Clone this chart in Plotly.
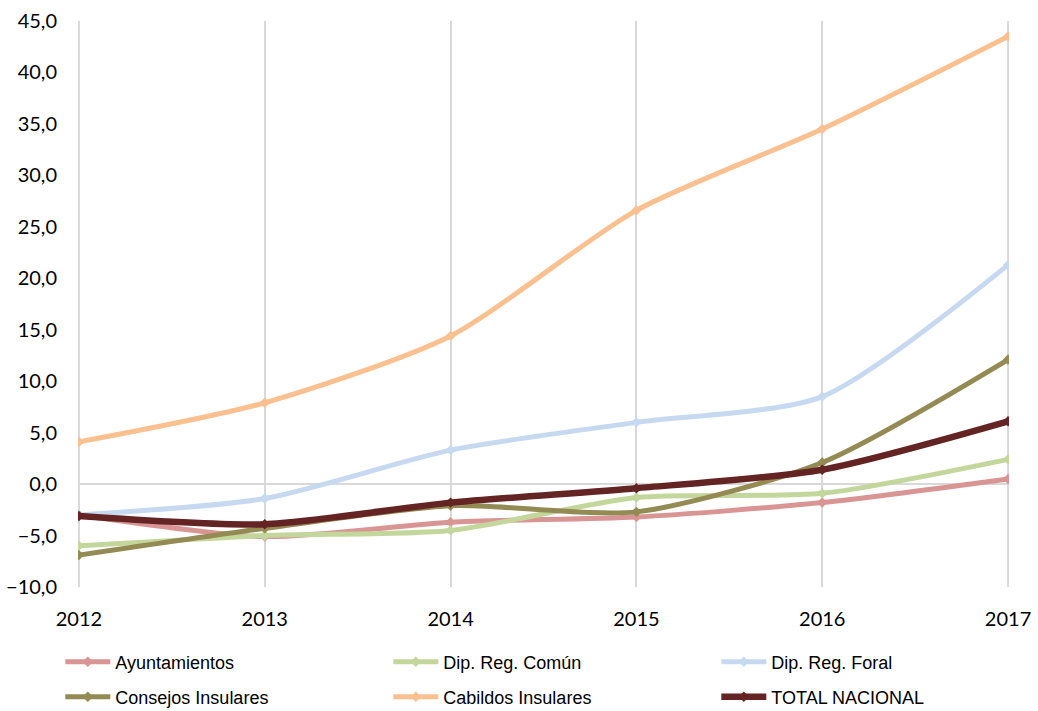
import plotly.graph_objects as go

years = [2012, 2013, 2014, 2015, 2016, 2017]
ayuntamientos = [-3.0, -5.1, -3.7, -3.2, -1.8, 0.5]
dip_comun = [-6.0, -5.0, -4.5, -1.3, -0.9, 2.4]
dip_foral = [-3.0, -1.4, 3.3, 6.0, 8.5, 21.3]
consejos = [-6.9, -4.3, -2.1, -2.7, 2.1, 12.1]
cabildos = [4.1, 7.9, 14.4, 26.6, 34.5, 43.5]
total = [-3.1, -3.9, -1.8, -0.4, 1.4, 6.1]

series = [
    ("Ayuntamientos", ayuntamientos, "#D99594", 5, "legend"),
    ("Dip. Reg. Común", dip_comun, "#C3D69B", 5, "legend"),
    ("Dip. Reg. Foral", dip_foral, "#C6D9F1", 5, "legend"),
    ("Consejos Insulares", consejos, "#948A54", 5, "legend2"),
    ("Cabildos Insulares", cabildos, "#FAC090", 5, "legend2"),
    ("TOTAL NACIONAL", total, "#632423", 6.5, "legend2"),
]

fig = go.Figure()
for name, vals, color, w, lg in series:
    fig.add_trace(go.Scatter(
        x=years, y=vals, name=name, mode="lines+markers", legend=lg,
        line=dict(color=color, width=w, shape="spline", smoothing=0.7),
        marker=dict(symbol="diamond", size=8, color=color),
    ))

# edge gridlines (plotly drops gridlines lying on the plot-area border)
for yr in (years[0], years[-1]):
    fig.add_vline(x=yr, line=dict(color="#D9D9D9", width=2), layer="below")

legfont = dict(family="Liberation Sans", size=18, color="#000")
common = dict(orientation="h", xanchor="left", yanchor="middle",
              entrywidth=268, entrywidthmode="pixels", font=legfont,
              itemwidth=45, bgcolor="rgba(0,0,0,0)")

fig.update_layout(
    width=1038, height=711,
    margin=dict(l=78, r=29, t=21, b=124, autoexpand=False),
    plot_bgcolor="white", paper_bgcolor="white",
    separators=", ",
    font=dict(family="Lato, Open Sans, sans-serif", color="#000000"),
    showlegend=True,
    legend=dict(x=-0.019, y=-(662 - 587) / 566, **common),
    legend2=dict(x=-0.019, y=-(697 - 587) / 566, **common),
)
fig.update_xaxes(
    range=[2011.995, 2017.005], tickvals=years, ticktext=[str(y) for y in years],
    showgrid=True, gridcolor="#D9D9D9", gridwidth=2,
    zeroline=False, showline=False, automargin=False,
    tickfont=dict(size=20, family="Lato, Open Sans, sans-serif"),
    ticklabelstandoff=18,
)
fig.update_yaxes(
    range=[-10, 45], tickvals=[-10, -5, 0, 5, 10, 15, 20, 25, 30, 35, 40, 45],
    tickformat=".1f", showgrid=False,
    zeroline=True, zerolinecolor="#D9D9D9", zerolinewidth=2,
    showline=False, automargin=False,
    tickfont=dict(size=20, family="Lato, Open Sans, sans-serif"),
    ticklabelstandoff=20,
)

fig.write_html(
    "out.html",
    config={"displayModeBar": False},
    post_script="document.body.style.margin='0';document.body.style.overflow='hidden';",
)
